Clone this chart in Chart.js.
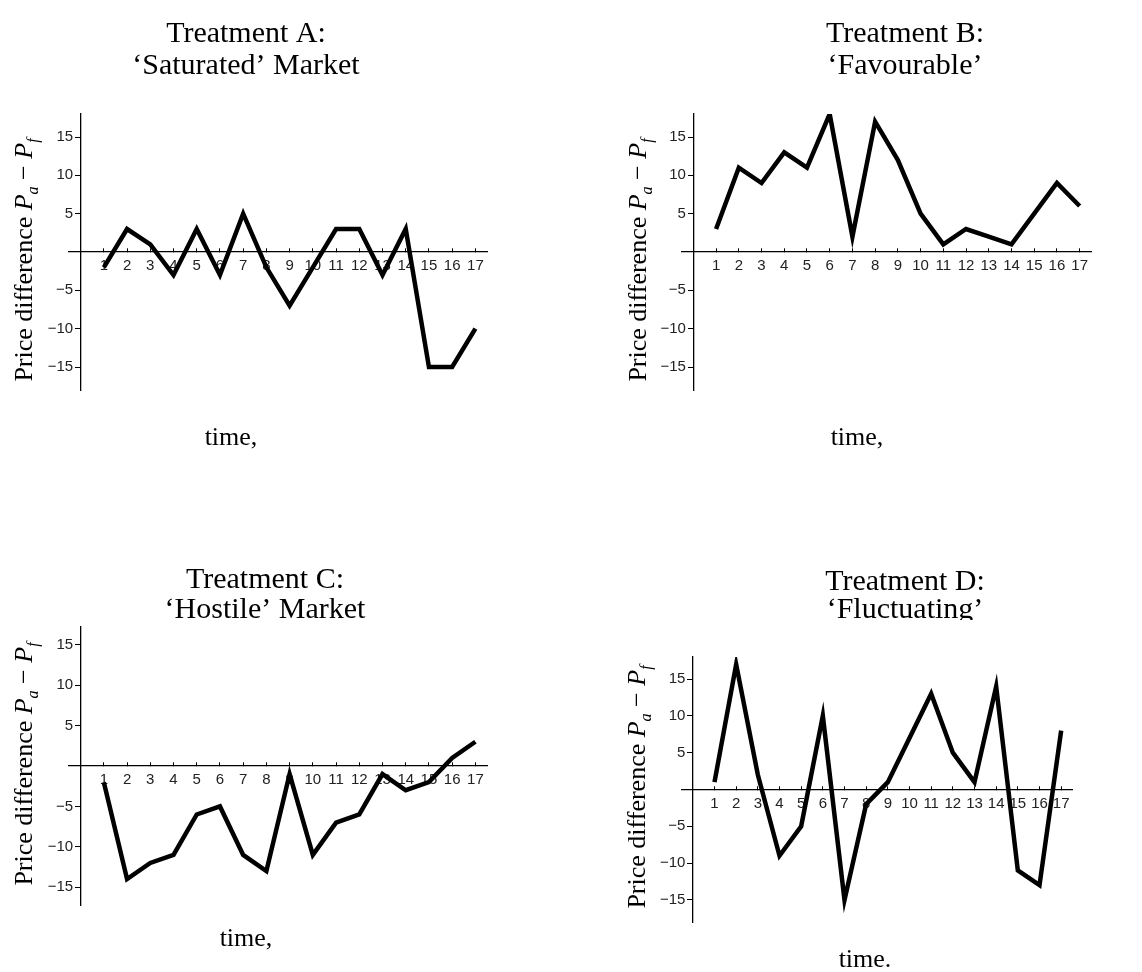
<!DOCTYPE html>
<html>
<head>
<meta charset="utf-8">
<script src="https://cdn.jsdelivr.net/npm/chart.js"></script>
<style>
  body { margin: 0; background: #fff; }
  #wrap { position: relative; width: 1142px; height: 972px; }
  .panel { position: absolute; width: 571px; height: 486px; }
</style>
</head>
<body>
<div id="wrap">
  <div class="panel" style="left:0;top:0"><canvas id="chartA" width="571" height="486"></canvas></div>
  <div class="panel" style="left:571px;top:0"><canvas id="chartB" width="571" height="486"></canvas></div>
  <div class="panel" style="left:0;top:486px"><canvas id="chartC" width="571" height="486"></canvas></div>
  <div class="panel" style="left:571px;top:486px"><canvas id="chartD" width="571" height="486"></canvas></div>
</div>
<script>
// data
const times = [1, 2, 3, 4, 5, 6, 7, 8, 9, 10, 11, 12, 13, 14, 15, 16, 17];
const yTicks = [-15, -10, -5, 5, 10, 15];

const diffA = [-2, 3, 1, -3, 3, -3, 5, -2, -7, -2, 3, 3, -3, 3, -15, -15, -10];
const diffB = [3, 11, 9, 13, 11, 18, 2, 17, 12, 5, 1, 3, 2, 1, 5, 9, 6];
const diffC = [-2, -14, -12, -11, -6, -5, -11, -13, -1, -11, -7, -6, -1, -3, -2, 1, 3];
const diffD = [1, 17, 2, -9, -5, 10, -15, -2, 1, 7, 13, 5, 1, 14, -11, -13, 8];

const titleA = ['Treatment A:', '\u2018Saturated\u2019 Market'];
const titleB = ['Treatment B:', '\u2018Favourable\u2019'];
const titleC = ['Treatment C:', '\u2018Hostile\u2019 Market'];
const titleD = ['Treatment D:', '\u2018Fluctuating\u2019'];

const serif = '"Liberation Serif", "Times New Roman", serif';

// titles and axis labels drawn on the canvas
const textPlugin = {
  id: 'panelText',
  afterDraw(chart, args, o) {
    const ctx = chart.ctx;
    ctx.save();
    ctx.fillStyle = '#000';
    ctx.textAlign = 'center';
    ctx.textBaseline = 'alphabetic';

    ctx.save();
    if (o.clipBottom) {
      ctx.beginPath();
      ctx.rect(0, 0, chart.width, o.clipBottom);
      ctx.clip();
    }
    ctx.font = '30px ' + serif;
    o.title.forEach((line, i) => ctx.fillText(line, o.titleX, o.titleY[i]));
    ctx.restore();

    ctx.font = '26px ' + serif;
    ctx.fillText(o.xTitle, o.xTitleX, o.xTitleY);

    // rotated y title with italic P and subscripts
    ctx.translate(o.yTitleX, o.yTitleY);
    ctx.rotate(-Math.PI / 2);
    const parts = [
      ['Price difference ', '26px ' + serif, 0],
      ['P', 'italic 26px ' + serif, 0],
      ['a', 'italic 16px ' + serif, 6],
      [' \u2212 ', '26px ' + serif, 0],
      ['P', 'italic 26px ' + serif, 0],
      ['f', 'italic 16px ' + serif, 6]
    ];
    let total = 0;
    parts.forEach(p => { ctx.font = p[1]; total += ctx.measureText(p[0]).width; });
    let x = -total / 2;
    ctx.textAlign = 'left';
    parts.forEach(p => {
      ctx.font = p[1];
      ctx.fillText(p[0], x, p[2]);
      x += ctx.measureText(p[0]).width;
    });
    ctx.restore();
  }
};

const tickFont = { family: '"Liberation Sans", Arial, sans-serif', size: 15 };
const fmt = v => (v < 0 ? '\u2212' + Math.abs(v) : String(v));

function makeChart(id, values, yMax, pad, text) {
  new Chart(document.getElementById(id), {
    type: 'line',
    data: {
      datasets: [{
        data: times.map((t, i) => ({ x: t, y: values[i] })),
        borderColor: '#000',
        borderWidth: 4.5,
        pointRadius: 0,
        tension: 0,
        clip: 0
      }]
    },
    options: {
      responsive: false,
      animation: false,
      layout: { padding: pad },
      plugins: {
        legend: { display: false },
        tooltip: { enabled: false },
        panelText: text
      },
      scales: {
        x: {
          type: 'linear',
          min: -0.5,
          max: 17.5,
          position: { y: 0 },
          afterBuildTicks: s => { s.ticks = times.map(v => ({ value: v })); },
          grid: { display: true, drawOnChartArea: false, drawTicks: true, tickLength: -4, color: '#000', lineWidth: 1 },
          border: { display: true, color: '#000', width: 1.3 },
          ticks: { autoSkip: false, maxRotation: 0, padding: 9, color: '#222', font: tickFont, callback: fmt }
        },
        y: {
          type: 'linear',
          min: -yMax,
          max: yMax,
          position: { x: 0 },
          afterBuildTicks: s => { s.ticks = yTicks.map(v => ({ value: v })); },
          grid: { display: true, drawOnChartArea: false, drawTicks: true, tickLength: 5, color: '#000', lineWidth: 1 },
          border: { display: true, color: '#000', width: 1.3 },
          // labels of an axis placed at x = 0 sit right on the axis, so keep a gap
          ticks: { color: '#222', font: tickFont, callback: v => fmt(v) + '\u2002' }
        }
      }
    },
    plugins: [textPlugin]
  });
}

makeChart('chartA', diffA, 18, { left: 69, right: 84, top: 114, bottom: 96 }, {
  title: titleA, titleX: 246, titleY: [42, 74],
  xTitle: 'time,', xTitleX: 231, xTitleY: 445,
  yTitleX: 32, yTitleY: 260
});
makeChart('chartB', diffB, 18, { left: 111, right: 51, top: 114, bottom: 96 }, {
  title: titleB, titleX: 334, titleY: [42, 74],
  xTitle: 'time,', xTitleX: 286, xTitleY: 445,
  yTitleX: 75, yTitleY: 260
});
makeChart('chartC', diffC, 17.2, { left: 69, right: 84, top: 141, bottom: 67 }, {
  title: titleC, titleX: 265, titleY: [102, 132],
  xTitle: 'time,', xTitleX: 246, xTitleY: 460,
  yTitleX: 32, yTitleY: 278
});
makeChart('chartD', diffD, 18, { left: 111, right: 70, top: 171, bottom: 50 }, {
  title: titleD, titleX: 334, titleY: [104, 132], clipBottom: 134,
  xTitle: 'time.', xTitleX: 294, xTitleY: 481,
  yTitleX: 74, yTitleY: 301
});
</script>
</body>
</html>
